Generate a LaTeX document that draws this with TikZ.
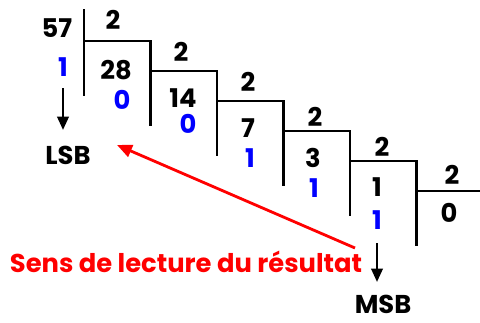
\documentclass[tikz,border=0pt]{standalone}
\usepackage{fontspec}
\setmainfont{Poppins}
\usetikzlibrary{arrows.meta}
\tikzset{
  num/.style={font=\fontsize{22}{26}\selectfont\bfseries, inner sep=0pt},
  rest/.style={num, text=blue},
  bar/.style={line width=2.4pt},
  down/.style={line width=2.2pt, -{Triangle[length=4mm,width=3.4mm]}},
  readarrow/.style={line width=2.4pt, red, -{Triangle[length=4.5mm,width=3.8mm]}}
}
\begin{document}
\begin{tikzpicture}[x=0.03cm,y=-0.03cm]
  \useasboundingbox (0,0) rectangle (480,322);
  % Define the steps
  \draw[bar] (84,9) -- (84,96);
  \foreach \k in {0,...,4}
    \draw[bar] (84+66.5*\k,41+30*\k) -- (150.5+66.5*\k,41+30*\k) -- (150.5+66.5*\k,126+30*\k);
  \draw[bar] (416.5,191) -- (480,191);
  % Dividends and divisors
  \node[num] (n57) at (57,28) {57};
  \node[num] (d0) at (113,20) {2};
  \node[num] (q1) at (116,70) {28};
  \node[num] (d1) at (181,52) {2};
  \node[num] (q2) at (183,98) {14};
  \node[num] (d2) at (248,82) {2};
  \node[num] (q3) at (248,128) {7};
  \node[num] (d3) at (315,117) {2};
  \node[num] (q4) at (313,158) {3};
  \node[num] (d4) at (382,147) {2};
  \node[num] (q5) at (377,187) {1};
  \node[num] (d5) at (452,175) {2};
  \node[num] (q6) at (449,213) {0};
  % Remainders
  \node[rest] (r0) at (63,67) {1};
  \node[rest] (r1) at (122,100) {0};
  \node[rest] (r2) at (188,124) {0};
  \node[rest] (r3) at (250,158) {1};
  \node[rest] (r4) at (314,188) {1};
  \node[rest] (r5) at (377,220) {1};
  % LSB, MSB
  \node[num] (LSB) at (68,155) {LSB};
  \node[num] (MSB) at (383,304) {MSB};
  \draw[down, shorten <=6.3mm, shorten >=7.5mm] (r0.center) -- (r0 |- LSB);
  \draw[down, shorten <=6.9mm, shorten >=6.6mm] (r5.center) -- (r5 |- MSB);
  % Reading direction
  \node[num, text=red] (sens) at (186,262) {Sens de lecture du résultat};
  \coordinate (readstart) at (355,248);
  \coordinate (readend) at (117,145);
  \draw[readarrow] (readstart) -- (readend);
\end{tikzpicture}
\end{document}
